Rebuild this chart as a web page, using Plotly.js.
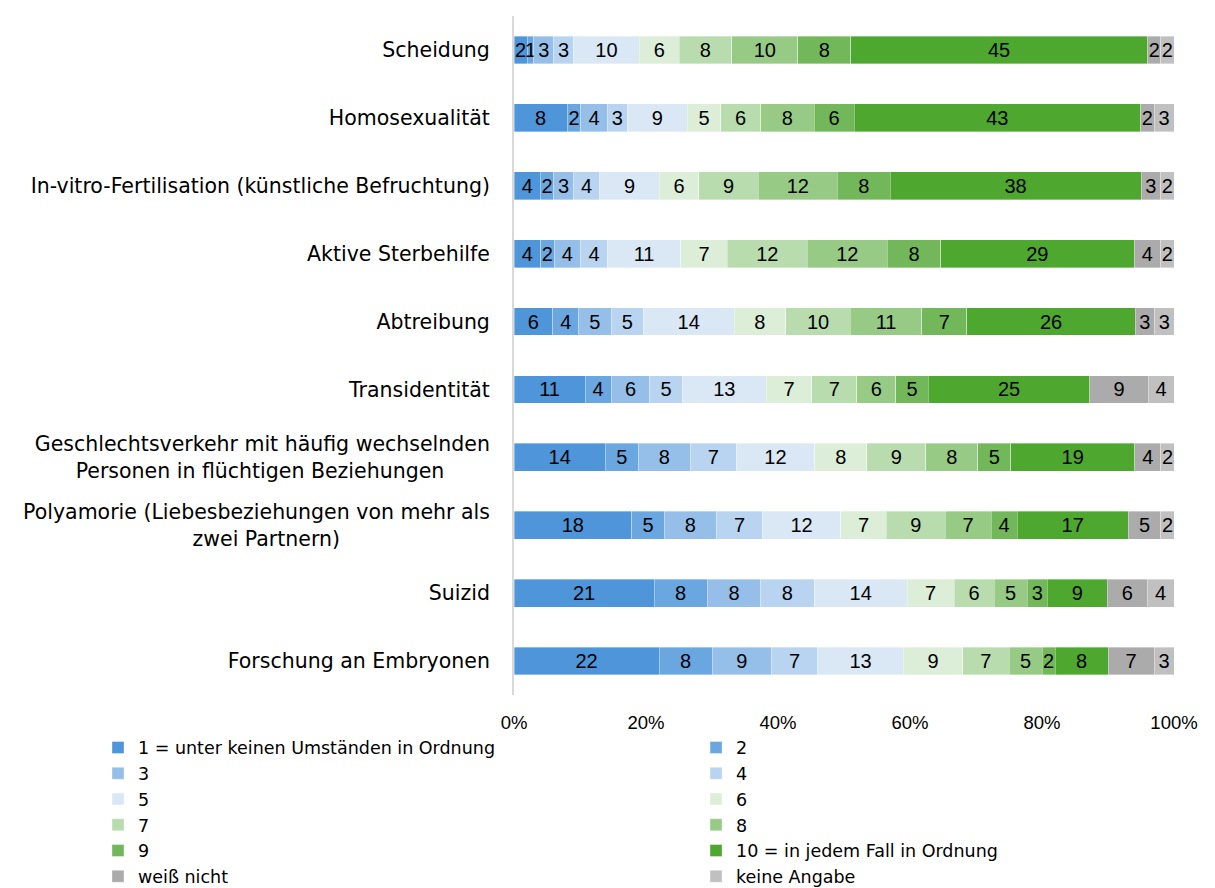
<!DOCTYPE html>
<html>
<head>
<meta charset="utf-8">
<script src="https://cdn.plot.ly/plotly-3.0.1.min.js"></script>
<style>html,body{margin:0;padding:0;background:#fff;}#chart{width:1215px;height:888px;}</style>
</head>
<body>
<div id="chart"></div>
<script>
const categories = [
  "Scheidung",
  "Homosexualität",
  "In-vitro-Fertilisation (künstliche Befruchtung)",
  "Aktive Sterbehilfe",
  "Abtreibung",
  "Transidentität",
  "Geschlechtsverkehr mit häufig wechselnden Personen in flüchtigen Beziehungen",
  "Polyamorie (Liebesbeziehungen von mehr als zwei Partnern)",
  "Suizid",
  "Forschung an Embryonen"
];
const NB = "\u00A0";
const categoryTickLabels = [
  "Scheidung",
  "Homosexualität",
  "In-vitro-Fertilisation (künstliche Befruchtung)",
  "Aktive Sterbehilfe",
  "Abtreibung",
  "Transidentität",
  "Geschlechtsverkehr mit häufig wechselnden<br>Personen in flüchtigen Beziehungen" + NB.repeat(7),
  "Polyamorie (Liebesbeziehungen von mehr als<br>zwei Partnern)" + NB.repeat(23),
  "Suizid",
  "Forschung an Embryonen"
];
const seriesNames = [
  "1 = unter keinen Umständen in Ordnung", "2", "3", "4", "5", "6", "7", "8", "9",
  "10 = in jedem Fall in Ordnung", "weiß nicht", "keine Angabe"
];
// values per series, ordered like categories
const s1  = [2, 8, 4, 4, 6, 11, 14, 18, 21, 22];
const s2  = [1, 2, 2, 2, 4, 4, 5, 5, 8, 8];
const s3  = [3, 4, 3, 4, 5, 6, 8, 8, 8, 9];
const s4  = [3, 3, 4, 4, 5, 5, 7, 7, 8, 7];
const s5  = [10, 9, 9, 11, 14, 13, 12, 12, 14, 13];
const s6  = [6, 5, 6, 7, 8, 7, 8, 7, 7, 9];
const s7  = [8, 6, 9, 12, 10, 7, 9, 9, 6, 7];
const s8  = [10, 8, 12, 12, 11, 6, 8, 7, 5, 5];
const s9  = [8, 6, 8, 8, 7, 5, 5, 4, 3, 2];
const s10 = [45, 43, 38, 29, 26, 25, 19, 17, 9, 8];
const sWN = [2, 2, 3, 4, 3, 9, 4, 5, 6, 7];
const sKA = [2, 3, 2, 2, 3, 4, 2, 2, 4, 3];
const seriesValues = [s1, s2, s3, s4, s5, s6, s7, s8, s9, s10, sWN, sKA];
const colors = ["#4E95D9", "#6AA6E0", "#95BFE8", "#B8D4F0", "#DAE8F5", "#DCEDD8",
                "#B9DCAE", "#96CA85", "#72B85A", "#4EA72E", "#ABABAB", "#C0C0C0"];
const xTickVals = [0, 20, 40, 60, 80, 100];
const xTickText = ["0%", "20%", "40%", "60%", "80%", "100%"];

const labelFont = "'DejaVu Sans', 'Noto Sans', sans-serif";
const narrowFont = "'Liberation Sans Narrow', 'Arial Narrow', 'Liberation Sans', Arial, sans-serif";
const traces = seriesNames.map((name, i) => ({
  type: "bar",
  orientation: "h",
  name: name,
  y: categories,
  x: seriesValues[i],
  text: seriesValues[i].map(String),
  texttemplate: "%{text}",
  textposition: "inside",
  insidetextanchor: "middle",
  textangle: 0,
  constraintext: "none",
  textfont: {family: narrowFont, size: 20, color: "#000"},
  marker: {color: colors[i], line: {color: "rgba(255,255,255,0.6)", width: 0.6}},
  width: 0.41,
  hoverinfo: "none",
  legend: (i % 2 === 0) ? "legend" : "legend2"
}));

const legendCommon = {
  orientation: "v",
  traceorder: "normal",
  xanchor: "left",
  yanchor: "top",
  bgcolor: "rgba(0,0,0,0)",
  font: {family: labelFont, size: 17.5, color: "#000"},
  itemwidth: 30,
  tracegroupgap: 0
};

const layout = {
  width: 1215,
  height: 888,
  margin: {l: 514, r: 41, t: 16, b: 193, autoexpand: false},
  paper_bgcolor: "#fff",
  plot_bgcolor: "#fff",
  barmode: "stack",
  barnorm: "percent",
  uniformtext: {mode: "show", minsize: 20},
  font: {family: labelFont, size: 18, color: "#000"},
  xaxis: {
    range: [0, 100],
    tickvals: xTickVals,
    ticktext: xTickText,
    showgrid: false,
    zeroline: false,
    showline: false,
    ticks: "",
    ticklabelstandoff: 14,
    tickfont: {family: narrowFont, size: 18.5, color: "#000"},
    fixedrange: true
  },
  yaxis: {
    autorange: "reversed",
    tickmode: "array",
    tickvals: categories,
    ticktext: categoryTickLabels,
    showgrid: false,
    zeroline: false,
    showline: true,
    linecolor: "#D9D9D9",
    linewidth: 2,
    ticks: "",
    ticklabelstandoff: 18,
    tickfont: {family: labelFont, size: 20.5, color: "#000"},
    fixedrange: true
  },
  legend: Object.assign({}, legendCommon, {x: -0.6303, y: -0.051}),
  legend2: Object.assign({}, legendCommon, {x: 0.2758, y: -0.051}),
  showlegend: true
};

Plotly.newPlot("chart", traces, layout, {displayModeBar: false, staticPlot: true});
</script>
</body>
</html>
